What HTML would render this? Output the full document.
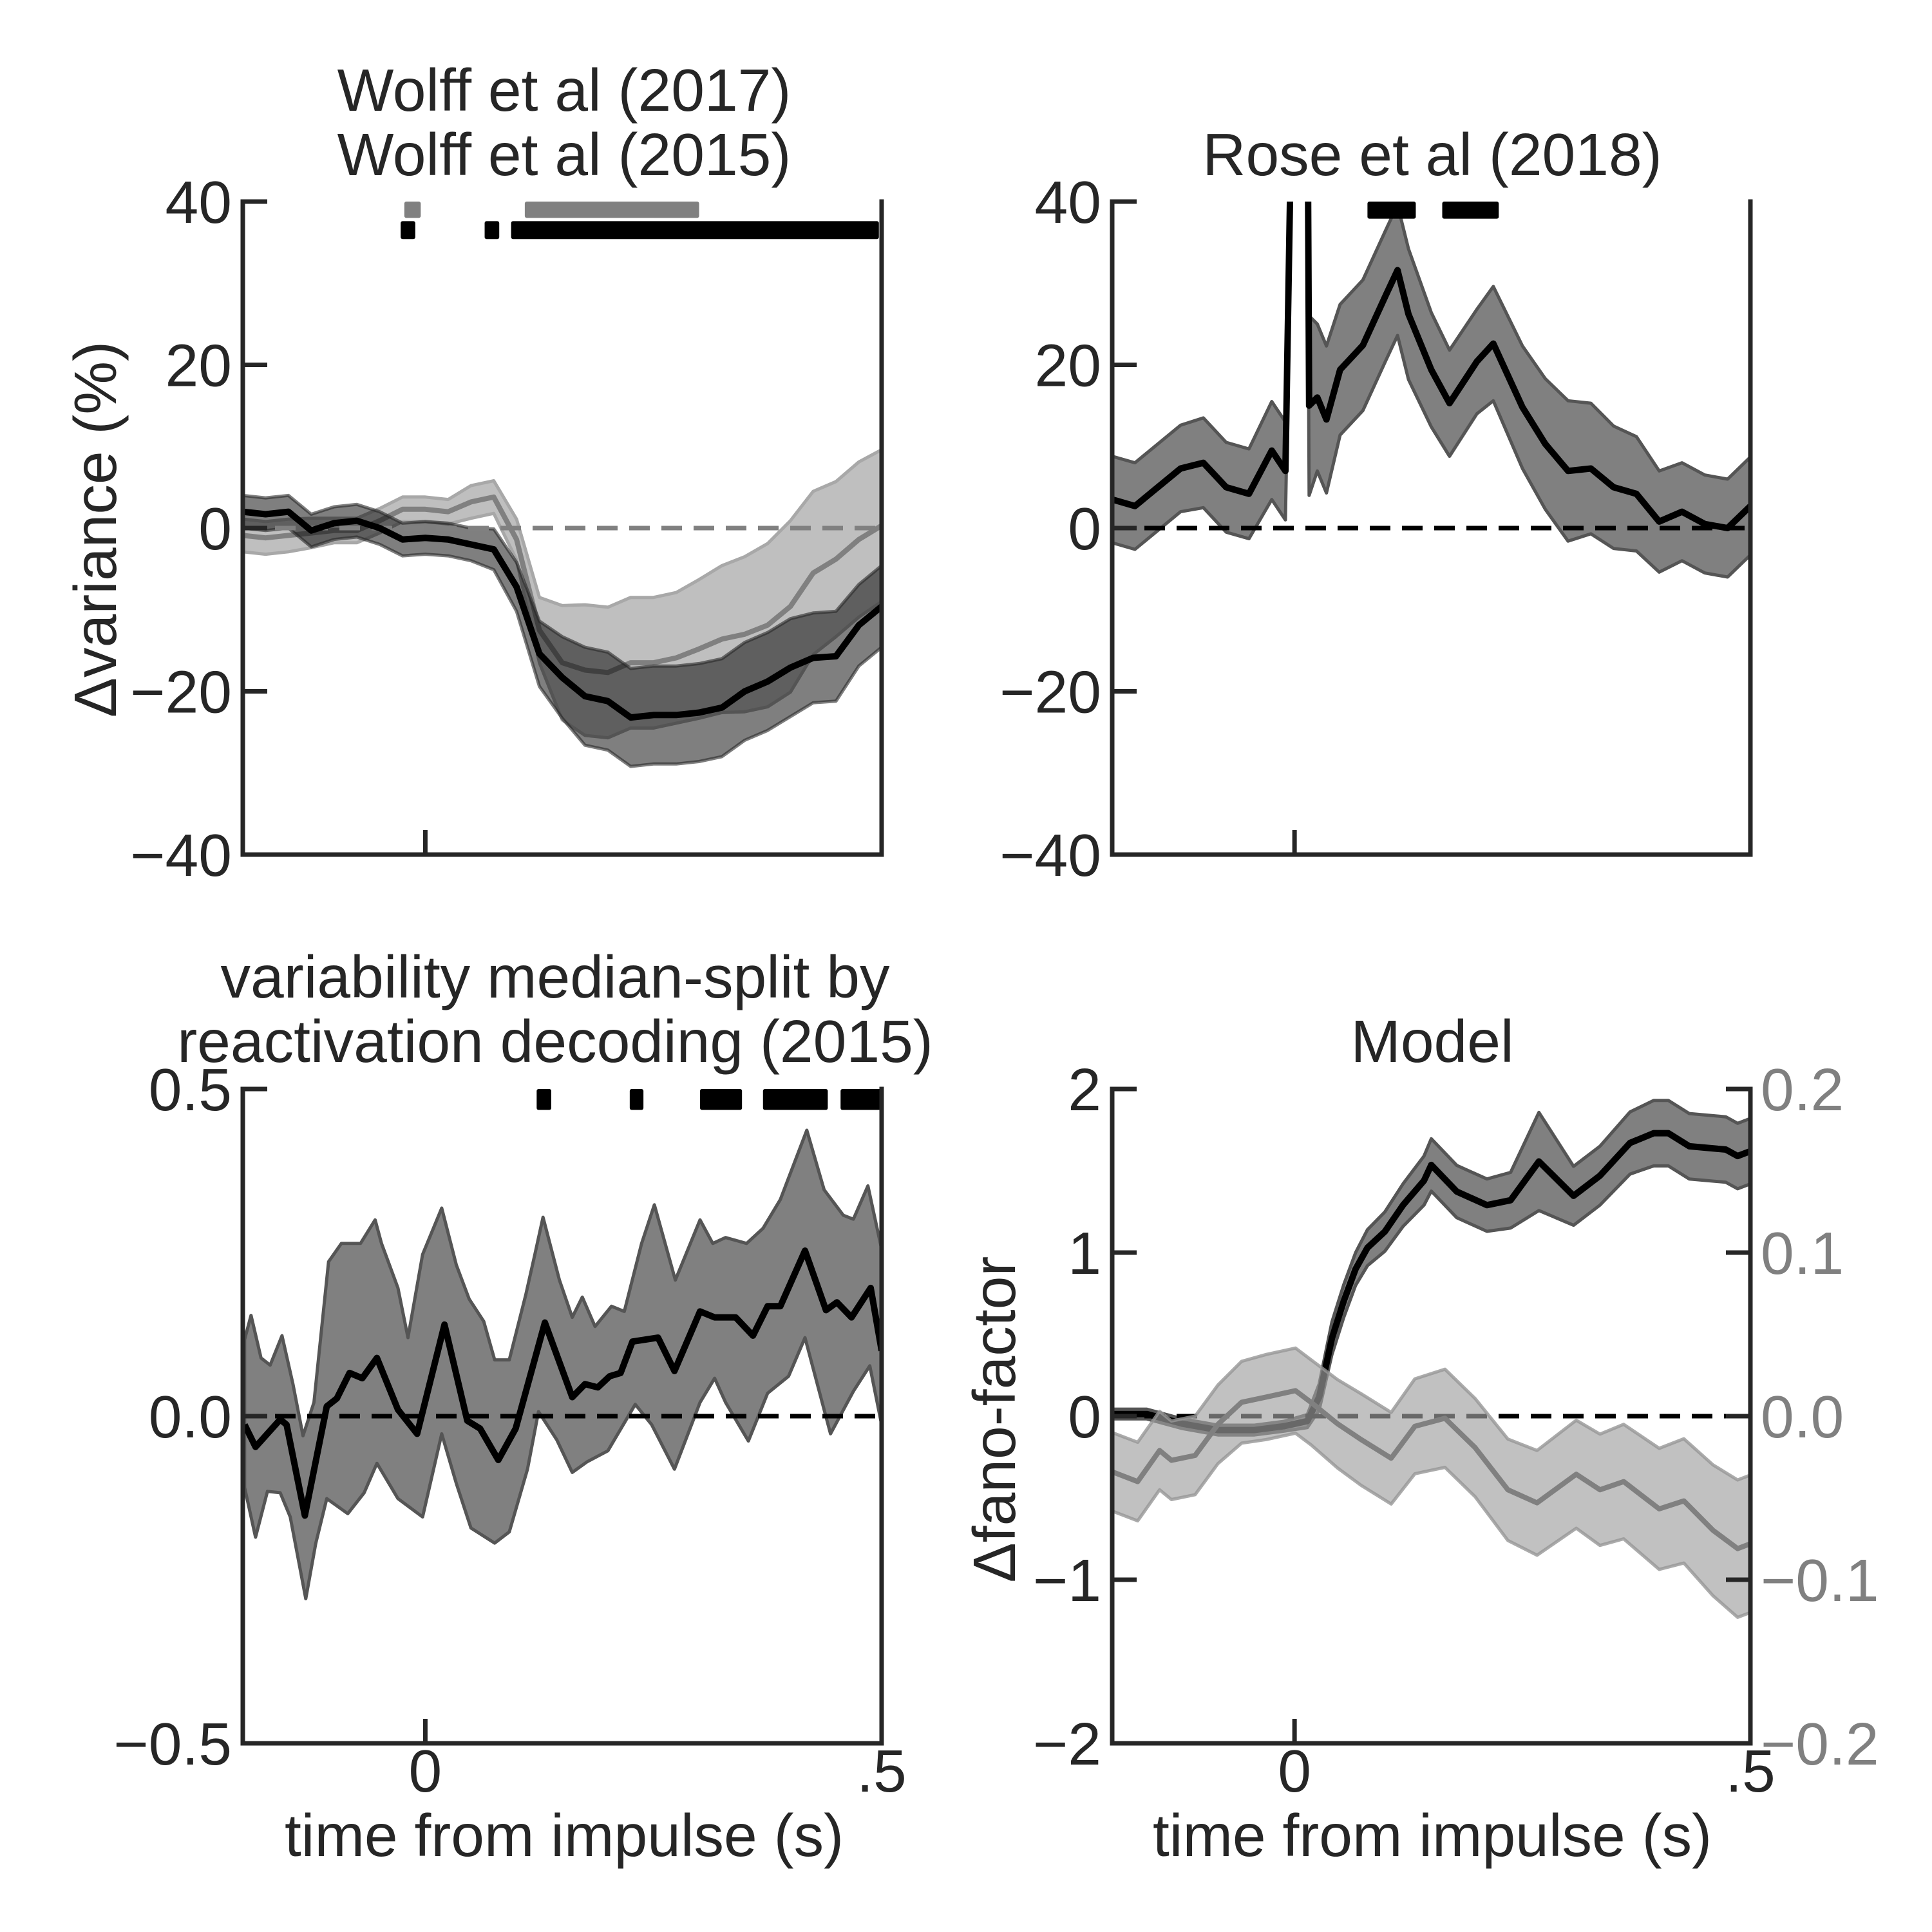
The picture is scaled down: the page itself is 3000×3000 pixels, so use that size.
<!DOCTYPE html>
<html><head><meta charset="utf-8">
<style>
html,body{margin:0;padding:0;background:#fff;}
svg{display:block;}
text{font-family:"Liberation Sans",Arial,sans-serif;font-size:93px;fill:#262626;}
</style></head>
<body>
<svg id="fig" xmlns="http://www.w3.org/2000/svg" width="3000" height="3000" viewBox="0 0 3000 3000">
<rect width="3000" height="3000" fill="#fff"/>
<defs>
<clipPath id="c1"><rect x="377" y="313" width="992" height="1014"/></clipPath>
<clipPath id="c2"><rect x="1727" y="313" width="991" height="1014"/></clipPath>
<clipPath id="c3"><rect x="377" y="1691" width="992" height="1016"/></clipPath>
<clipPath id="c4"><rect x="1727" y="1691" width="991" height="1016"/></clipPath>
</defs>
<g id="p1"></g>
<g id="p2"></g>
<g id="p3"></g>
<g id="p4"></g>
<g id="txt">
<text x="876" y="172" text-anchor="middle">Wolff et al (2017)</text>
<text x="876" y="272" text-anchor="middle">Wolff et al (2015)</text>
<text x="2224" y="272" text-anchor="middle">Rose et al (2018)</text>
<text x="862" y="1549" text-anchor="middle">variability median-split by</text>
<text x="862" y="1649" text-anchor="middle">reactivation decoding (2015)</text>
<text x="2224" y="1649" text-anchor="middle">Model</text>
<text transform="translate(180,822) rotate(-90)" text-anchor="middle">Δvariance (%)</text>
<text transform="translate(1576,2204) rotate(-90)" text-anchor="middle">Δfano-factor</text>
<text x="876" y="2882" text-anchor="middle">time from impulse (s)</text>
<text x="2224" y="2882" text-anchor="middle">time from impulse (s)</text>
</g>
</svg>
<script>
// ---------- data ----------
const t1 = [-0.2,-0.175,-0.15,-0.125,-0.1,-0.075,-0.05,-0.025,0,0.025,0.05,0.075,0.1,0.125,0.15,0.175,0.2,0.225,0.25,0.275,0.3,0.325,0.35,0.375,0.4,0.425,0.45,0.475,0.5];
const w15Mean = [2.0,1.7,2.0,-0.3,0.6,0.9,0,-1.4,-1.2,-1.4,-2.0,-2.6,-7.2,-15.4,-18.3,-20.6,-21.2,-23.2,-22.9,-22.9,-22.6,-22,-20,-18.8,-17.1,-15.9,-15.7,-11.9,-9.6];
const w15Err = [2,2,2,2,2,2,2,2,2,2,2,2.5,3,4,5,6,6,6,6,6,6,6,6,6,6,5.5,5.5,5,5];
const w17Mean = [-0.9,-1.2,-0.9,-0.6,-0.3,-0.3,0.9,2.3,2.3,2.0,3.2,3.8,-1.4,-12.5,-16.5,-17.4,-17.7,-16.5,-16.5,-15.9,-14.8,-13.6,-13,-11.9,-9.6,-5.5,-3.8,-1.4,0.3];
const w17Err = [2,2,2,1.8,1.5,1.5,1.5,1.5,1.5,1.5,2,2,2.5,4,7,8,8,8,8,8,8.5,9,9.5,10,10.5,10,9.5,9.5,9.3];
const sig1Gray = [[-0.023,-0.005],[0.109,0.30]];
const sig1Black = [[-0.027,-0.011],[0.065,0.081],[0.094,0.497]];
const t2 = [-0.2,-0.175,-0.15,-0.125,-0.1,-0.075,-0.05,-0.025,-0.01,-0.002,0.014,0.016,0.025,0.035,0.05,0.075,0.1,0.113,0.125,0.15,0.17,0.2,0.218,0.25,0.275,0.3,0.325,0.35,0.375,0.4,0.425,0.45,0.475,0.5];
const roseMean = [3.5,2.7,5,7.3,8,5,4.2,9.5,7,60,60,15,16,13.3,19.4,22.4,28.5,31.6,26.2,19.4,15.3,20.4,22.6,14.8,10.3,7.0,7.3,5,4.2,0.8,2,0.5,0,2.7];
const roseErr = [5.3,5.3,5.3,5.3,5.5,5.5,5.5,6,6,10,10,11,9,9,8,8,8,8,8,7,6.5,6.4,7,7.5,8,8.6,8,7.5,7,6.2,6,6,6,6];
const sig2 = [[0.080,0.133],[0.162,0.224]];
const t3m = [-0.198,-0.186,-0.159,-0.152,-0.132,-0.108,-0.097,-0.083,-0.069,-0.053,-0.030,-0.009,0.021,0.046,0.060,0.080,0.099,0.131,0.161,0.175,0.189,0.202,0.214,0.227,0.255,0.273,0.301,0.317,0.340,0.359,0.375,0.389,0.416,0.439,0.451,0.467,0.488,0.5];
const msMean = [-0.013,-0.047,-0.005,-0.013,-0.152,0.015,0.027,0.066,0.058,0.089,0.010,-0.027,0.14,-0.007,-0.019,-0.067,-0.019,0.143,0.029,0.049,0.044,0.061,0.066,0.114,0.12,0.069,0.16,0.151,0.151,0.123,0.168,0.168,0.253,0.162,0.174,0.151,0.196,0.10];
const t3u = [-0.198,-0.191,-0.180,-0.170,-0.157,-0.145,-0.134,-0.122,-0.106,-0.092,-0.071,-0.055,-0.048,-0.030,-0.019,-0.003,0.018,0.034,0.048,0.064,0.076,0.092,0.110,0.120,0.129,0.147,0.161,0.172,0.186,0.204,0.218,0.237,0.251,0.274,0.301,0.315,0.329,0.352,0.370,0.389,0.418,0.437,0.458,0.469,0.485,0.5];
const msUpper = [0.117,0.154,0.089,0.078,0.123,0.049,-0.03,0.021,0.236,0.264,0.264,0.3,0.264,0.196,0.12,0.247,0.318,0.231,0.179,0.145,0.086,0.086,0.185,0.247,0.304,0.208,0.151,0.182,0.137,0.168,0.16,0.264,0.323,0.208,0.3,0.264,0.273,0.264,0.287,0.331,0.437,0.346,0.307,0.301,0.352,0.255];
const t3l = [-0.198,-0.186,-0.173,-0.159,-0.148,-0.131,-0.120,-0.108,-0.085,-0.067,-0.053,-0.030,-0.003,0.018,0.034,0.050,0.076,0.092,0.112,0.124,0.144,0.161,0.177,0.200,0.230,0.248,0.273,0.301,0.317,0.329,0.354,0.375,0.398,0.416,0.444,0.469,0.487,0.5];
const msLower = [-0.109,-0.185,-0.115,-0.117,-0.154,-0.279,-0.194,-0.126,-0.149,-0.117,-0.072,-0.126,-0.154,-0.027,-0.103,-0.171,-0.194,-0.177,-0.081,0.007,-0.036,-0.086,-0.07,-0.053,0.018,-0.013,-0.081,0.021,0.058,0.021,-0.038,0.035,0.061,0.12,-0.027,0.038,0.077,-0.013];
const sig3 = [[0.122,0.138],[0.224,0.239],[0.301,0.347],[0.370,0.441],[0.455,0.5]];
const t4b = [-0.2,-0.162,-0.123,-0.084,-0.044,-0.012,0.014,0.027,0.041,0.054,0.067,0.080,0.099,0.119,0.142,0.150,0.178,0.211,0.237,0.268,0.306,0.335,0.368,0.394,0.410,0.433,0.473,0.486,0.5];
const fanoMean = [0.013,0.013,-0.046,-0.085,-0.085,-0.062,-0.03,0.117,0.476,0.704,0.9,1.03,1.128,1.29,1.44,1.536,1.373,1.29,1.32,1.557,1.347,1.47,1.67,1.73,1.73,1.65,1.63,1.59,1.62];
const fanoErr = [0.03,0.03,0.03,0.03,0.03,0.03,0.04,0.08,0.1,0.1,0.1,0.11,0.12,0.13,0.15,0.16,0.16,0.16,0.17,0.3,0.18,0.18,0.19,0.2,0.2,0.2,0.2,0.2,0.2];
const t4g = [-0.2,-0.172,-0.148,-0.135,-0.109,-0.084,-0.058,-0.031,0.001,0.018,0.047,0.073,0.106,0.132,0.165,0.198,0.234,0.266,0.309,0.335,0.361,0.400,0.427,0.459,0.486,0.5];
const rightMean = [-0.034,-0.040,-0.021,-0.027,-0.024,-0.005,0.0085,0.0117,0.0156,0.0085,-0.0046,-0.0143,-0.0257,-0.0062,-0.0013,-0.0192,-0.045,-0.053,-0.0355,-0.045,-0.040,-0.0567,-0.0518,-0.0698,-0.081,-0.078];
const rightErr = [0.024,0.024,0.024,0.024,0.024,0.024,0.025,0.026,0.026,0.026,0.027,0.028,0.028,0.029,0.03,0.03,0.031,0.032,0.033,0.034,0.035,0.037,0.038,0.04,0.042,0.042];
const yTicks1 = [40,20,0,-20,-40];
const yTickLabels1 = ["40","20","0","\u221220","\u221240"];
const yTicks3 = [0.5,0,-0.5];
const yTickLabels3 = ["0.5","0.0","\u22120.5"];
const yTicks4 = [2,1,0,-1,-2];
const yTickLabels4 = ["2","1","0","\u22121","\u22122"];
const yTicksR = [0.2,0.1,0,-0.1,-0.2];
const yTickLabelsR = ["0.2","0.1","0.0","\u22120.1","\u22120.2"];
const xTicks = [0,0.5];
const xTickLabels = ["0",".5"];

// ---------- drawing ----------
const NS = "http://www.w3.org/2000/svg";
function el(tag, attrs, parent){
  const e = document.createElementNS(NS, tag);
  for (const k in attrs) e.setAttribute(k, attrs[k]);
  parent.appendChild(e);
  return e;
}
function mkPanel(x0,x1,y0,y1,ymin,ymax){
  return {
    x: t => x0 + (t + 0.2) / 0.7 * (x1 - x0),
    y: v => y1 - (v - ymin) / (ymax - ymin) * (y1 - y0),
    x0, x1, y0, y1
  };
}
function linePath(P, ts, vs){
  return ts.map((t,i)=>(i?"L":"M")+P.x(t).toFixed(1)+","+P.y(vs[i]).toFixed(1)).join("");
}
function bandPath(P, tu, up, tl, lo){
  let d = tu.map((t,i)=>(i?"L":"M")+P.x(t).toFixed(1)+","+P.y(up[i]).toFixed(1)).join("");
  for (let i=tl.length-1;i>=0;i--) d += "L"+P.x(tl[i]).toFixed(1)+","+P.y(lo[i]).toFixed(1);
  return d+"Z";
}
function errBand(g, P, ts, m, e, fill, edge, name){
  const up = m.map((v,i)=>v+e[i]), lo = m.map((v,i)=>v-e[i]);
  const p = el("path",{d:bandPath(P,ts,up,ts,lo),fill:fill,stroke:edge,"stroke-width":5,"stroke-linejoin":"round"},g);
  
  
}
function meanLine(g,P,ts,vs,color,w,name){
  const p = el("path",{d:linePath(P,ts,vs),fill:"none",stroke:color,"stroke-width":w,"stroke-linejoin":"round"},g);
  
  
}
function zeroLine(g,P,color){
  const l = el("line",{x1:P.x0,x2:P.x1,y1:P.y(0),y2:P.y(0),stroke:color,"stroke-width":7,"stroke-dasharray":"32 18"},g);
  
  
}
function sigBars(g,P,bars,vTop,vBot,color,name){
  bars.forEach(b=>{
    const r = el("rect",{x:P.x(b[0]),y:P.y(vTop),width:Math.max(4,P.x(b[1])-P.x(b[0])),height:P.y(vBot)-P.y(vTop),fill:color,rx:3},g);
    
    
  });
}
function axes(g,P,opts){
  const c="#262626";
  const sp = el("path",{d:`M${P.x0},${P.y0}V${P.y1}H${P.x1}V${P.y0}`,fill:"none",stroke:c,"stroke-width":7,"stroke-linecap":"square"},g);
  
  
  opts.yt.forEach((v,i)=>{
    const yy=P.y(v);
    const tk=el("line",{x1:P.x0,x2:P.x0+38,y1:yy,y2:yy,stroke:c,"stroke-width":7},g);
    
    
    const tx=el("text",{x:P.x0-17,y:yy+33,"text-anchor":"end"},g);
    tx.textContent=opts.yl[i];
    
    
  });
  xTicks.forEach((t,i)=>{
    const xx=P.x(t);
    if (t>-0.2 && t<0.5){
      const tk=el("line",{x1:xx,x2:xx,y1:P.y1,y2:P.y1-38,stroke:c,"stroke-width":7},g);
      
      
    }
    if (opts.xl){
      const tx=el("text",{x:xx,y:2782,"text-anchor":"middle"},g);
      tx.textContent=xTickLabels[i];
      
      
    }
  });
}

(function(){
  const g=document.getElementById("p1");
  const P=mkPanel(377,1369,313,1327,-40,40);
  const d=el("g",{"clip-path":"url(#c1)"},g);
  errBand(d,P,t1,w17Mean,w17Err,"#bfbfbf","#a8a8a8","band-wolff-2017");
  meanLine(d,P,t1,w17Mean,"#808080",8,"line-wolff-2017");
  errBand(d,P,t1,w15Mean,w15Err,"rgba(0,0,0,0.5)","rgba(40,40,40,0.6)","band-wolff-2015");
  zeroLine(d,P,"#808080");
  meanLine(d,P,t1,w15Mean,"#000",10,"line-wolff-2015");
  sigBars(g,P,sig1Gray,40,38,"#808080","sig-bar-2017");
  sigBars(g,P,sig1Black,37.6,35.4,"#000","sig-bar-2015");
  axes(g,P,{yt:yTicks1,yl:yTickLabels1,xl:false});
})();
(function(){
  const g=document.getElementById("p2");
  const P=mkPanel(1727,2718,313,1327,-40,40);
  const d=el("g",{"clip-path":"url(#c2)"},g);
  errBand(d,P,t2,roseMean,roseErr,"#808080","#555","band-rose");
  zeroLine(d,P,"#000");
  meanLine(d,P,t2,roseMean,"#000",10,"line-rose");
  sigBars(g,P,sig2,40,37.9,"#000","sig-bar-rose");
  axes(g,P,{yt:yTicks1,yl:yTickLabels1,xl:false});
})();
(function(){
  const g=document.getElementById("p3");
  const P=mkPanel(377,1369,1691,2707,-0.5,0.5);
  const d=el("g",{"clip-path":"url(#c3)"},g);
  const b=el("path",{d:bandPath(P,t3u,msUpper,t3l,msLower),fill:"#808080",stroke:"#555","stroke-width":5,"stroke-linejoin":"round"},d);
  
  
  zeroLine(d,P,"#000");
  meanLine(d,P,t3m,msMean,"#000",10,"line-median-split");
  sigBars(g,P,sig3,0.5,0.468,"#000","sig-bar-median-split");
  axes(g,P,{yt:yTicks3,yl:yTickLabels3,xl:true});
})();
(function(){
  const g=document.getElementById("p4");
  const P=mkPanel(1727,2718,1691,2707,-2,2);
  const R=mkPanel(1727,2718,1691,2707,-0.2,0.2);
  const d=el("g",{"clip-path":"url(#c4)"},g);
  errBand(d,P,t4b,fanoMean,fanoErr,"#808080","#555","band-fano-model");
  zeroLine(d,P,"#000");
  meanLine(d,P,t4b,fanoMean,"#000",10,"line-fano-model");
  errBand(d,R,t4g,rightMean,rightErr,"rgba(160,160,160,0.65)","rgba(150,150,150,0.8)","band-right-axis");
  meanLine(d,R,t4g,rightMean,"#808080",8,"line-right-axis");
  axes(g,P,{yt:yTicks4,yl:yTickLabels4,xl:true});
  yTicksR.forEach((v,i)=>{
    const yy=R.y(v);
    const tk=el("line",{x1:R.x1-38,x2:R.x1,y1:yy,y2:yy,stroke:"#262626","stroke-width":7},g);
    
    
    const tx=el("text",{x:R.x1+16,y:yy+33,"text-anchor":"start",style:"fill:#808080"},g);
    tx.textContent=yTickLabelsR[i];
    
    
  });
})();
</script>
</body></html>
